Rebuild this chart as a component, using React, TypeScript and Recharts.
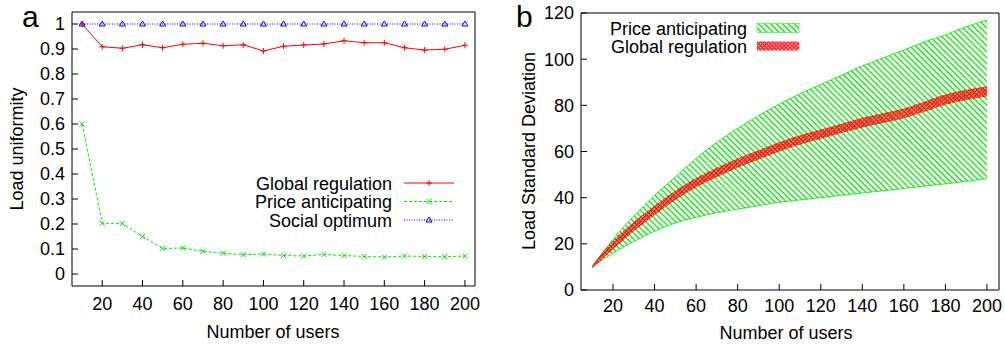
import React from 'react';
import { LineChart, Line, AreaChart, Area, XAxis, YAxis, Legend } from 'recharts';

// ---------- Panel a data ----------
const users = [10, 20, 30, 40, 50, 60, 70, 80, 90, 100, 110, 120, 130, 140, 150, 160, 170, 180, 190, 200];
const globalRegulation = [1.0, 0.909, 0.903, 0.917, 0.905, 0.919, 0.923, 0.913, 0.917, 0.892, 0.911, 0.916, 0.92, 0.933, 0.925, 0.925, 0.905, 0.896, 0.899, 0.915];
const priceAnticipating = [0.6, 0.203, 0.202, 0.15, 0.102, 0.104, 0.091, 0.083, 0.077, 0.08, 0.074, 0.072, 0.078, 0.074, 0.07, 0.068, 0.072, 0.07, 0.069, 0.072];
const socialOptimum = [1, 1, 1, 1, 1, 1, 1, 1, 1, 1, 1, 1, 1, 1, 1, 1, 1, 1, 1, 1];

// ---------- Panel b data ----------
const priceLow = [10, 16, 21, 25.5, 29, 31.5, 33.5, 35, 36.5, 38, 39, 40, 41, 42, 43, 44, 45, 46, 47, 48.3];
const priceHigh = [10, 22, 32, 41, 49, 57, 64, 70, 75.5, 80.5, 85, 89, 93, 97, 100.5, 104, 107.5, 110.5, 114, 117];
const globalLow = [9.5, 17.8, 25.6, 32.6, 39.1, 44.6, 49.1, 53.1, 56.6, 60.1, 63.1, 65.6, 68.1, 70.5, 72.5, 74.5, 77.4, 80.4, 82.4, 83.9];
const globalHigh = [10.5, 21.2, 29.4, 36.4, 42.9, 48.4, 52.9, 56.9, 60.4, 63.9, 66.9, 69.4, 71.9, 74.5, 76.5, 78.5, 81.6, 84.6, 86.6, 88.1];

// ---------- Ticks ----------
const xTicks = [20, 40, 60, 80, 100, 120, 140, 160, 180, 200];
const yTicksA = [0, 0.1, 0.2, 0.3, 0.4, 0.5, 0.6, 0.7, 0.8, 0.9, 1];
const yTicksB = [0, 20, 40, 60, 80, 100, 120];

const FONT = '"Liberation Sans", Arial, Helvetica, sans-serif';
const RED = '#ff0000';
const GREEN = '#00e600';
const BLUE = '#0000ff';

const dataA = users.map((u, i) => ({
  users: u,
  global: globalRegulation[i],
  price: priceAnticipating[i],
  social: socialOptimum[i],
}));

const dataB = users.map((u, i) => ({
  users: u,
  price: [priceLow[i], priceHigh[i]],
  global: [globalLow[i], globalHigh[i]],
}));

const plusPath = (cx: number, cy: number) => `M${cx - 3},${cy}h6M${cx},${cy - 3}v6`;
const crossPath = (cx: number, cy: number) => `M${cx - 2.5},${cy - 2.5}l5,5M${cx - 2.5},${cy + 2.5}l5,-5`;
const triPath = (cx: number, cy: number) => `M${cx},${cy - 3}L${cx + 3},${cy + 2}L${cx - 3},${cy + 2}Z`;

const makeDot = (kind: string, color: string) => (p: any) => {
  const key = `${kind}-${p.index}`;
  if (p.cx == null || p.cy == null) return <g key={key} />;
  const d = kind === 'plus' ? plusPath(p.cx, p.cy) : kind === 'cross' ? crossPath(p.cx, p.cy) : triPath(p.cx, p.cy);
  return <path key={key} d={d} stroke={color} strokeWidth={1} fill="none" />;
};

const legendAItems = [
  { name: 'Global regulation', color: RED, dash: undefined as string | undefined, kind: 'plus' },
  { name: 'Price anticipating', color: GREEN, dash: '3 2', kind: 'cross' },
  { name: 'Social optimum', color: BLUE, dash: '1 1.5', kind: 'tri' },
];

const renderLegendA = () => (
  <svg width={240} height={64} style={{ fontFamily: FONT, display: 'block' }}>
    {legendAItems.map((it, i) => {
      const y = 13 + i * 18.5;
      const d = it.kind === 'plus' ? plusPath(199, y) : it.kind === 'cross' ? crossPath(199, y) : triPath(199, y);
      return (
        <g key={it.name}>
          <text x={162} y={y + 6.5} textAnchor="end" fontSize={18} fill="#000">{it.name}</text>
          <line x1={174} x2={224} y1={y} y2={y} stroke={it.color} strokeWidth={1} strokeDasharray={it.dash} />
          <path d={d} stroke={it.color} strokeWidth={1} fill="none" />
        </g>
      );
    })}
  </svg>
);

const legendBItems = [
  { name: 'Price anticipating', fill: 'url(#hatchGreen)', stroke: GREEN },
  { name: 'Global regulation', fill: 'url(#meshRed)', stroke: 'none' },
];

const renderLegendB = () => (
  <svg width={220} height={46} style={{ fontFamily: FONT, display: 'block' }}>
    {legendBItems.map((it, i) => {
      const y = 13 + i * 18;
      return (
        <g key={it.name}>
          <text x={147} y={y + 6.5} textAnchor="end" fontSize={18} fill="#000">{it.name}</text>
          <rect x={157} y={y - 4.5} width={42} height={9} fill={it.fill} stroke={it.stroke} strokeWidth={0.5} />
        </g>
      );
    })}
  </svg>
);

const tickStyle = { fill: '#000', fontSize: 18 };
const axisLine = { stroke: '#000', strokeWidth: 1 };
const tickLine = { stroke: '#000', strokeWidth: 1 };

export default function App() {
  return (
    <div
      style={{
        position: 'absolute',
        left: 0,
        top: 0,
        width: 1005,
        height: 348,
        background: '#fff',
        fontFamily: FONT,
        overflow: 'hidden',
      }}
    >
      <svg width={0} height={0} style={{ position: 'absolute' }}>
        <defs>
          <pattern id="hatchGreen" patternUnits="userSpaceOnUse" width={4.2} height={4.2} patternTransform="rotate(-45)">
            <line x1={1} y1={-1} x2={1} y2={5.2} stroke={GREEN} strokeWidth={1.3} />
          </pattern>
          <pattern id="meshRed" patternUnits="userSpaceOnUse" width={2.8} height={2.8} patternTransform="rotate(45)">
            <path d="M0,0H2.8V1.5H1.5V2.8H0Z" fill={RED} fillOpacity={0.9} />
          </pattern>
        </defs>
      </svg>

      {/* Panel a */}
      <div style={{ position: 'absolute', left: 0, top: 0 }}>
        <LineChart width={500} height={348} data={dataA} margin={{ top: 10, right: 23, bottom: 22, left: 30 }}>
          <XAxis
            dataKey="users"
            type="number"
            domain={[5, 205]}
            ticks={xTicks}
            interval={0}
            allowDataOverflow
            height={40}
            tickSize={-6}
            tickMargin={17}
            tick={tickStyle}
            axisLine={axisLine}
            tickLine={tickLine}
          />
          <XAxis
            xAxisId="top"
            orientation="top"
            dataKey="users"
            type="number"
            domain={[5, 205]}
            ticks={xTicks}
            interval={0}
            allowDataOverflow
            height={2}
            tickSize={-6}
            tick={false}
            axisLine={axisLine}
            tickLine={tickLine}
          />
          <YAxis
            type="number"
            domain={[-0.048, 1.048]}
            ticks={yTicksA}
            interval={0}
            allowDataOverflow
            width={42}
            tickSize={-6}
            tickMargin={13}
            tick={tickStyle}
            axisLine={axisLine}
            tickLine={tickLine}
          />
          <YAxis
            yAxisId="right"
            orientation="right"
            type="number"
            domain={[-0.048, 1.048]}
            ticks={yTicksA}
            interval={0}
            allowDataOverflow
            width={2}
            tickSize={-6}
            tick={false}
            axisLine={axisLine}
            tickLine={tickLine}
          />
          <Line
            dataKey="global"
            name="Global regulation"
            stroke={RED}
            strokeWidth={1}
            dot={makeDot('plus', RED)}
            activeDot={false}
            isAnimationActive={false}
          />
          <Line
            dataKey="price"
            name="Price anticipating"
            stroke={GREEN}
            strokeWidth={1}
            strokeDasharray="3 2"
            dot={makeDot('cross', GREEN)}
            activeDot={false}
            isAnimationActive={false}
          />
          <Line
            dataKey="social"
            name="Social optimum"
            stroke={BLUE}
            strokeWidth={1}
            strokeDasharray="1 1.5"
            dot={makeDot('tri', BLUE)}
            activeDot={false}
            isAnimationActive={false}
          />
          <Legend
            layout="vertical"
            align="center"
            verticalAlign="middle"
            wrapperStyle={{ left: 230, top: 170, width: 240, height: 64 }}
            content={renderLegendA}
          />
        </LineChart>
      </div>

      {/* Panel b */}
      <div style={{ position: 'absolute', left: 500, top: 0 }}>
        <AreaChart width={505} height={348} data={dataB} margin={{ top: 11, right: 4, bottom: 18, left: 35 }}>
          <XAxis
            dataKey="users"
            type="number"
            domain={[4.6, 205.8]}
            ticks={xTicks}
            interval={0}
            allowDataOverflow
            height={40}
            tickSize={-6}
            tickMargin={15}
            tick={tickStyle}
            axisLine={axisLine}
            tickLine={tickLine}
          />
          <XAxis
            xAxisId="top"
            orientation="top"
            dataKey="users"
            type="number"
            domain={[4.6, 205.8]}
            ticks={xTicks}
            interval={0}
            allowDataOverflow
            height={2}
            tickSize={-6}
            tick={false}
            axisLine={axisLine}
            tickLine={tickLine}
          />
          <YAxis
            type="number"
            domain={[0, 120]}
            ticks={yTicksB}
            interval={0}
            allowDataOverflow
            width={46}
            tickSize={-6}
            tickMargin={13}
            tick={tickStyle}
            axisLine={axisLine}
            tickLine={tickLine}
          />
          <YAxis
            yAxisId="right"
            orientation="right"
            type="number"
            domain={[0, 120]}
            ticks={yTicksB}
            interval={0}
            allowDataOverflow
            width={2}
            tickSize={-6}
            tick={false}
            axisLine={axisLine}
            tickLine={tickLine}
          />
          <Area
            dataKey="price"
            name="Price anticipating"
            type="monotone"
            fill="url(#hatchGreen)"
            fillOpacity={1}
            stroke={GREEN}
            strokeWidth={0.8}
            dot={false}
            activeDot={false}
            isAnimationActive={false}
          />
          <Area
            dataKey="global"
            name="Global regulation"
            type="monotone"
            fill="url(#meshRed)"
            fillOpacity={1}
            stroke={RED}
            strokeWidth={0.6}
            strokeOpacity={0.7}
            dot={false}
            activeDot={false}
            isAnimationActive={false}
          />
          <Legend
            layout="vertical"
            align="center"
            verticalAlign="middle"
            wrapperStyle={{ left: 100, top: 15, width: 220, height: 46 }}
            content={renderLegendB}
          />
        </AreaChart>
      </div>

      {/* Panel letters and axis titles */}
      <svg
        width={1005}
        height={348}
        style={{ position: 'absolute', left: 0, top: 0, pointerEvents: 'none', fontFamily: FONT }}
      >
        <text x={22} y={27} fontSize={30} fill="#000">a</text>
        <text x={516} y={27} fontSize={30} fill="#000">b</text>
        <text transform="translate(23,149) rotate(-90)" textAnchor="middle" fontSize={18} fill="#000">Load uniformity</text>
        <text transform="translate(535,151) rotate(-90)" textAnchor="middle" fontSize={18} fill="#000">Load Standard Deviation</text>
        <text x={273} y={338} textAnchor="middle" fontSize={18} fill="#000">Number of users</text>
        <text x={786} y={339} textAnchor="middle" fontSize={18} fill="#000">Number of users</text>
      </svg>
    </div>
  );
}
